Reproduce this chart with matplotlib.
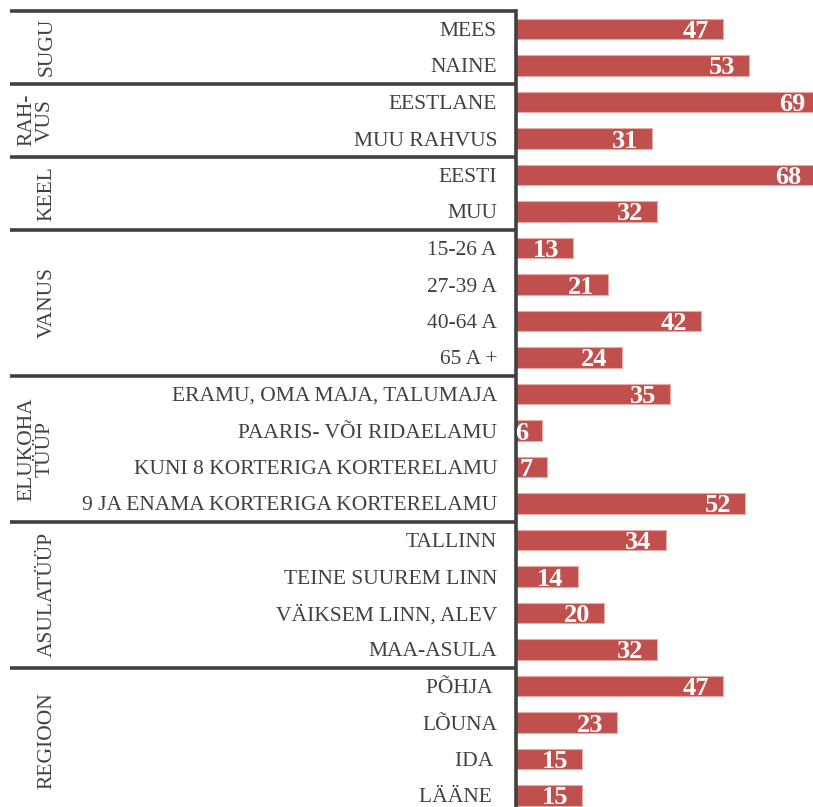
import matplotlib.pyplot as plt
import matplotlib.transforms as mtransforms

plt.rcParams['font.family'] = ['Liberation Serif', 'DejaVu Serif']

# dati
groups = ["SUGU", "RAH-\nVUS", "KEEL", "VANUS", "ELUKOHA\nTÜÜP", "ASULATÜÜP", "REGIOON"]
group_sizes = [2, 2, 2, 4, 4, 4, 4]
categories = ["MEES", "NAINE",
              "EESTLANE", "MUU RAHVUS",
              "EESTI", "MUU",
              "15-26 A", "27-39 A", "40-64 A", "65 A +",
              "ERAMU, OMA MAJA, TALUMAJA", "PAARIS- VÕI RIDAELAMU",
              "KUNI 8 KORTERIGA KORTERELAMU", "9 JA ENAMA KORTERIGA KORTERELAMU",
              "TALLINN", "TEINE SUUREM LINN", "VÄIKSEM LINN, ALEV", "MAA-ASULA",
              "PÕHJA ", "LÕUNA", "IDA ", "LÄÄNE "]
values = [47, 53, 69, 31, 68, 32, 13, 21, 42, 24, 35, 6, 7, 52, 34, 14, 20, 32, 47, 23, 15, 15]

W, H = 813, 807
bar_col = "#C0504D"
dark = "#404040"

fig = plt.figure(figsize=(W / 100, H / 100), dpi=100)
# asse delle barre: sinistra a 516 px, riga 0 centrata a 29 px, passo 36.5 px
top_px = 29 - 36.5 * 0.5
bot_px = 29 + 36.5 * 21.5
ax = fig.add_axes([516 / W, 1 - bot_px / H, 1 - 516 / W, (bot_px - top_px) / H])

n = len(values)
ypos = list(range(n))
ax.barh(ypos, values, height=0.56, color=bar_col, edgecolor="#E8A9A7", linewidth=0.8)
ax.set_ylim(n - 0.5, -0.5)
ax.set_xlim(0, (W - 516) / 4.4)

for i, v in enumerate(values):
    ax.annotate(str(v), xy=(v, i), xytext=(-10, 0), textcoords="offset points",
                ha="right", va="center_baseline", color="white", fontweight="bold",
                fontsize=19, annotation_clip=False)

ax.set_xticks([])
ax.set_yticks([])
for s in ["top", "right", "bottom"]:
    ax.spines[s].set_visible(False)
ax.spines["left"].set_color(dark)
ax.spines["left"].set_linewidth(2.6)

trans = mtransforms.blended_transform_factory(fig.transFigure, ax.transData)

for i, c in enumerate(categories):
    ax.text(497 / W, i, c, transform=trans, ha="right", va="center_baseline",
            fontsize=15.5, color=dark)

# separatori e nomi dei gruppi
start = 0
bounds = [-0.5]
for g, sz in zip(groups, group_sizes):
    mid = start + (sz - 1) / 2
    xg = 47 if "\n" not in g else 36
    ax.text(xg / W, mid, g, transform=trans, rotation=90, ha="center", va="center",
            fontsize=15.5, color=dark, linespacing=0.95)
    start += sz
    bounds.append(start - 0.5)

for b in bounds[:-1]:
    ax.plot([10 / W, 516 / W], [b, b], transform=trans, color=dark, lw=2.6,
            clip_on=False, solid_capstyle="butt")

fig.savefig("out.png", dpi=100)
